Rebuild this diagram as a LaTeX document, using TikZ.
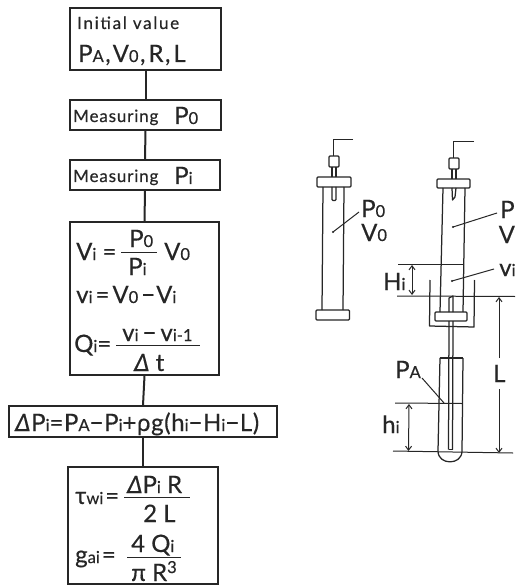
\documentclass[tikz,border=0pt]{standalone}
\usepackage{fontspec}
\setmainfont{Lato}[FakeBold=0.35]
\usetikzlibrary{arrows.meta}
\newcommand\sm[1]{{\fontsize{16.5}{16}\selectfont #1}}
\newcommand\dl{\textit{Δ}}
\definecolor{ink}{HTML}{262626}
\tikzset{
  box/.style={draw=ink,line width=1.6pt,inner sep=0pt,fill=none},
  link/.style={draw=ink,line width=2pt},
  part/.style={draw=ink,line width=1.25pt,line join=round},
  thin part/.style={draw=ink,line width=1pt},
  dim/.style={draw=ink,line width=1pt,{Straight Barb[length=4pt,width=6pt]}-{Straight Barb[length=4pt,width=6pt]}},
  txt/.style={anchor=base west,inner sep=0pt,text=ink,font=\fontsize{24}{24}\selectfont},
  small/.style={txt,font=\fontsize{17}{17}\selectfont},
}
\newcommand\lbl[4]{\node[txt] (#1) at (#2,#3) {#4};}
\newcommand\slbl[4]{\node[small] (#1) at (#2,#3) {#4};}
\begin{document}
\begin{tikzpicture}[x=1pt,y=-1pt]
\useasboundingbox (0,0) rectangle (515,585);
\clip (0,0) rectangle (515,585);
\fill[white] (0,0) rectangle (515,585);
% flowchart boxes
\node[box,minimum width=151pt,minimum height=62pt] (b1) at (145.5,39) {};
\node[box,minimum width=151pt,minimum height=30pt] (b2) at (145.5,115) {};
\node[box,minimum width=150pt,minimum height=30pt] (b3) at (145,175) {};
\node[box,minimum width=149pt,minimum height=153pt] (b4) at (144.5,298.5) {};
\node[box,minimum width=268pt,minimum height=31pt] (b5) at (143,421.5) {};
\node[box,minimum width=150pt,minimum height=117pt] (b6) at (143,525.5) {};
\draw[link] (b1.south) -- (b2.north);
\draw[link] (b2.south) -- (b3.north);
\draw[link] (b3.south) -- (b4.north);
\draw[link] (b4.south) -- (b5.north);
\draw[link] (b5.south) -- (b6.north);
% box 1
\slbl{t1}{77}{29}{\addfontfeature{LetterSpace=10}Initial value}
\lbl{t2}{78}{62}{P\sm{A}\hspace{1.5pt},\hspace{2pt}V\sm{0}\hspace{1.5pt},\hspace{3pt}R\hspace{1.5pt},\hspace{3pt}L}
% box 2, 3
\slbl{t3}{73}{122}{\addfontfeature{LetterSpace=5}Measuring}
\lbl{t4}{174}{124}{P\sm{0}}
\slbl{t5}{73}{182}{\addfontfeature{LetterSpace=5}Measuring}
\lbl{t6}{174}{184}{P\sm{i}}
% box 4
\lbl{t7}{76}{260}{V\sm{i} =}
\draw[thin part] (121,252) -- (157,252);
\lbl{t8}{129}{247}{P\sm{0}}
\lbl{t9}{128}{275}{P\sm{i}}
\lbl{t10}{164}{260}{V\sm{0}}
\lbl{t11}{76}{303}{v\sm{i}\hspace{3pt}=\hspace{3pt}V\sm{0}\hspace{3pt}−\hspace{1pt}V\sm{i}}
\lbl{t12}{74}{352}{Q\sm{i}=}
\draw[thin part] (116,345) -- (200,345);
\lbl{t13}{122}{341}{v\sm{i}\hspace{4pt}−\hspace{4pt}v\sm{i-1}}
\lbl{t14}{134}{371}{\dl\ t}
% box 5
\lbl{t15}{15}{431}{\addfontfeature{LetterSpace=2.5}\dl P\sm{i}=P\sm{A}−P\sm{i}+ρg(h\sm{i}−H\sm{i}−L)}
% box 6
\lbl{t16}{75}{504}{τ\sm{wi}\hspace{2pt}=}
\draw[thin part] (124,497) -- (190,497);
\lbl{t17}{127}{493}{\dl P\sm{i} R}
\lbl{t18}{143}{522}{2 L}
\lbl{t19}{75}{563}{g\sm{ai}\hspace{2pt}=}
\draw[thin part] (127,557) -- (181,557);
\lbl{t20}{131}{552}{4 Q\sm{i}}
\lbl{t21}{131}{581}{π R\raisebox{8pt}{\sm{3}}}
% left apparatus
\draw[thin part] (353,140) -- (333,140) -- (333,156);
\draw[part,rounded corners=1pt] (329,156) rectangle (339,167);
\draw[part] (332,167) -- (332,177) (336,167) -- (336,177);
\draw[part,rounded corners=1pt] (317,177) rectangle (351,187);
\draw[part,rounded corners=1pt] (332,187) -- (332,200.5) -- (336,200.5) -- (336,187);
\draw[part] (323,187) -- (322,310) (344,187) -- (343,310);
\draw[part,rounded corners=1pt] (316,310) rectangle (349.5,320);
\draw[thin part] (333,232) -- (359,212);
\fill[ink] (333,232) circle (1.1);
\lbl{p0}{361}{217}{P\sm{0}}
\lbl{v0}{361}{241}{V\sm{0}}
% right apparatus
\draw[thin part] (474,142) -- (453,142) -- (453,158);
\draw[part,rounded corners=1pt] (449,158) rectangle (459,169);
\draw[part] (452,169) -- (452,179) (456,169) -- (456,179);
\draw[part,rounded corners=1pt] (437,179) rectangle (470,188);
\draw[part] (452,188) -- (452.5,200) -- (455,197) -- (456,188);
\draw[part] (443,188) -- (440,312) (465,188) -- (463,312);
\draw[part,rounded corners=1pt] (435,312) rectangle (467,321);
\draw[part] (430,280) -- (429.5,326) -- (474,327) -- (474.5,280);
\draw[part] (449,312) -- (449,298) -- (453,296) -- (453,312);
\draw[thin part] (453,227) -- (497,213);
\fill[ink] (453,227) circle (1.1);
\draw[thin part] (452,281) -- (494,269);
\fill[ink] (452,281) circle (1.1);
\lbl{pr}{500}{218}{P}
\lbl{vr}{498.5}{243}{V}
\lbl{vir}{499}{276}{v\sm{i}}
% levels and dimensions
\draw[thin part] (398,264) -- (463,264);
\draw[thin part] (397,296) -- (515,296.5);
\draw[dim] (412,265) -- (412,295);
\lbl{hh}{383}{290}{H\sm{i}}
\coordinate (Ltop) at (499,297);
\coordinate (Lbot) at (499,453);
\node[txt] (ll) at (493,382) {L};
\draw[thin part,-{Straight Barb[length=4pt,width=6pt]}] (499,358) -- (Ltop);
\draw[thin part,-{Straight Barb[length=4pt,width=6pt]}] (499,389) -- (Lbot);
% capillary and test tube
\draw[part] (449,321) -- (448.5,449.5) (453,321) -- (452.5,449.5);
\draw[part] (448.5,449.5) -- (452.5,449.5);
\draw[part] (440,358) -- (463,358);
\draw[part] (440,358) -- (438,451) .. controls (438,465.5) and (462,465.5) .. (462,451) -- (463,358);
\draw[thin part] (395,403) -- (462,403.5);
\draw[thin part] (393,451) -- (513,453);
\draw[dim] (409,404) -- (408.5,451);
\lbl{hl}{382}{433}{h\sm{i}}
\lbl{pa}{395}{378}{P\sm{A}}
\draw[thin part] (422,378) -- (444,403);
\end{tikzpicture}
\end{document}
